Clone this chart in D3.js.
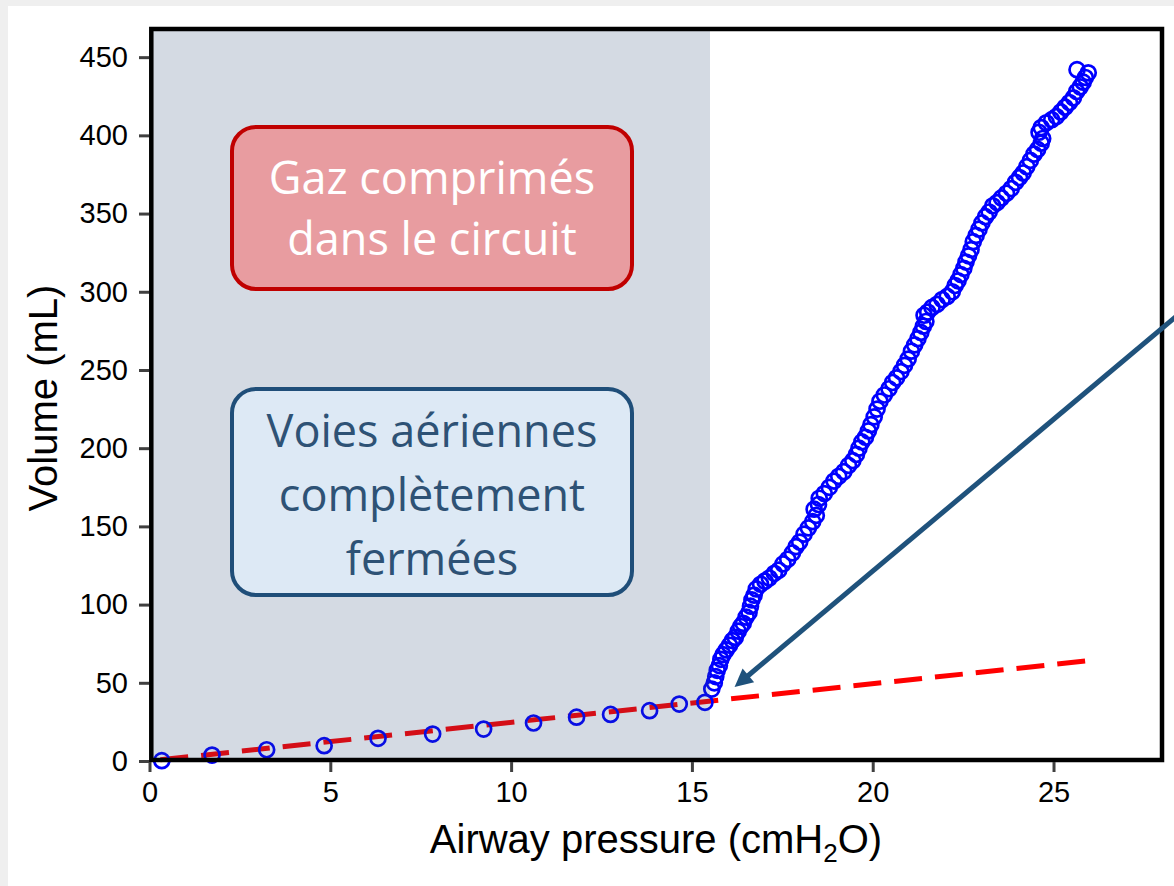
<!DOCTYPE html>
<html>
<head>
<meta charset="utf-8">
<script src="https://cdn.jsdelivr.net/npm/d3@7"></script>
<style>
  html, body { margin: 0; padding: 0; background: #efefef; }
  svg { display: block; }
</style>
</head>
<body>
<svg id="chart" width="1174" height="886"></svg>
<script>
// Pressure–volume points before the opening pressure (airways closed)
const lowPressure = [0.34, 1.73, 3.24, 4.83, 6.32, 7.83, 9.24, 10.62, 11.81, 12.75, 13.83, 14.65, 15.36];
const lowVolume   = [0.2, 3.8, 7.2, 9.8, 14.5, 17.2, 20.4, 24.3, 28.0, 29.8, 32.2, 36.4, 37.5];

// Points after airway opening
const highPressure = [
  15.55, 15.62, 15.66, 15.70, 15.76, 15.80, 15.86, 15.95, 16.04, 16.12,
  16.20, 16.28, 16.35, 16.42, 16.50, 16.58, 16.62, 16.66, 16.72, 16.78,
  16.90, 17.02, 17.14, 17.28, 17.40, 17.52, 17.65, 17.78, 17.88, 17.98,
  18.10, 18.22, 18.34, 18.44, 18.38, 18.50, 18.52, 18.66, 18.80, 18.93,
  19.06, 19.20, 19.33, 19.45, 19.55, 19.62, 19.70, 19.80, 19.88, 19.95,
  20.04, 20.12, 20.20, 20.32, 20.45, 20.55, 20.66, 20.78, 20.88, 20.98,
  21.07, 21.16, 21.25, 21.33, 21.40, 21.47, 21.42, 21.52, 21.64, 21.78,
  21.92, 22.06, 22.20, 22.28, 22.36, 22.44, 22.52, 22.58, 22.65, 22.72,
  22.78, 22.86, 22.94, 23.02, 23.12, 23.22, 23.32, 23.44, 23.56, 23.70,
  23.83, 23.95, 24.06, 24.16, 24.26, 24.36, 24.46, 24.56, 24.66, 24.70,
  24.60, 24.66, 24.80, 24.95, 25.08, 25.20, 25.32, 25.44, 25.55, 25.64,
  25.74, 25.82, 25.88, 25.96, 25.65
];
const highVolume = [
  46, 50, 54, 58, 61, 65, 68, 71, 74, 77,
  79, 83, 86, 88, 92, 95, 99, 103, 106, 110,
  113, 115, 117, 120, 122, 126, 129, 133, 137, 140,
  145, 149, 153, 157, 161, 164, 168, 171, 175, 179,
  182, 185, 189, 192, 196, 200, 204, 207, 211, 215,
  220, 225, 230, 234, 238, 242, 245, 249, 253, 257,
  262, 266, 270, 274, 278, 281, 285, 287, 290, 292,
  295, 297, 300, 304, 307, 311, 315, 319, 323, 327,
  332, 336, 340, 344, 348, 351, 355, 357, 360, 363,
  366, 370, 373, 376, 380, 384, 388, 391, 395, 398,
  402, 405, 408, 410, 412, 415, 418, 421, 424, 428,
  431, 434, 437, 440, 442
];

// Linear fit of the closed-airway segment, extended to the end of the loop
const fitPressure = [0.3, 26.0];
const fitVolume   = [0.8, 64.2];

// Pressure range where the airways stay completely closed
const closedRange = [0, 15.5];

// Arrow pointing at the airway opening pressure
const arrowFrom = [29.0, 296];
const arrowTo   = [16.18, 47.3];

const xTicks = [0, 5, 10, 15, 20, 25];
const yTicks = [0, 50, 100, 150, 200, 250, 300, 350, 400, 450];

const redBoxLines  = ["Gaz comprimés", "dans le circuit"];
const blueBoxLines = ["Voies aériennes", "complètement", "fermées"];

const svg = d3.select("#chart");

// page background
svg.append("rect")
  .attr("x", 8).attr("y", 6).attr("width", 1166).attr("height", 880)
  .attr("fill", "#ffffff");

const x = d3.scaleLinear().domain([0, 28]).range([149.5, 1162]);
const y = d3.scaleLinear().domain([0, 468]).range([761, 29]);

const plot = svg.append("g");

// dashed regression line
plot.append("path")
  .datum(fitPressure.map((p, i) => [p, fitVolume[i]]))
  .attr("d", d3.line().x(d => x(d[0])).y(d => y(d[1])))
  .attr("fill", "none")
  .attr("stroke", "#ff0000")
  .attr("stroke-width", 5)
  .attr("stroke-dasharray", "28,13");

// measured points
const points = lowPressure.map((p, i) => [p, lowVolume[i]])
  .concat(highPressure.map((p, i) => [p, highVolume[i]]));

plot.selectAll("circle.pt")
  .data(points)
  .join("circle")
  .attr("class", "pt")
  .attr("cx", d => x(d[0]))
  .attr("cy", d => y(d[1]))
  .attr("r", 7.5)
  .attr("fill", "none")
  .attr("stroke", "#0000ff")
  .attr("stroke-width", 2.7);

// shaded closed-airway zone
plot.append("rect")
  .attr("x", x(closedRange[0]))
  .attr("y", y(468))
  .attr("width", x(closedRange[1]) - x(closedRange[0]))
  .attr("height", y(0) - y(468))
  .attr("fill", "rgb(40,70,115)")
  .attr("fill-opacity", 0.2);

// annotation boxes
function box(x0, y0, w, h, fill, stroke, lines, color, lineGap, firstBaseline) {
  const g = svg.append("g");
  g.append("rect")
    .attr("x", x0).attr("y", y0).attr("width", w).attr("height", h)
    .attr("rx", 24).attr("ry", 24)
    .attr("fill", fill).attr("stroke", stroke).attr("stroke-width", 4);
  g.selectAll("text")
    .data(lines)
    .join("text")
    .attr("x", x0 + w / 2)
    .attr("y", (d, i) => firstBaseline + i * lineGap)
    .attr("text-anchor", "middle")
    .attr("font-family", "'Open Sans', sans-serif")
    .attr("font-weight", 400)
    .attr("font-size", 45)
    .attr("fill", color)
    .text(d => d);
}
box(232, 127, 400, 162, "#e89ca0", "#c00000", redBoxLines, "#ffffff", 61, 194);
box(232, 389, 400, 206, "#dde9f5", "#1f4e79", blueBoxLines, "#2e5275", 64, 447);

// frame
svg.append("rect")
  .attr("x", x(0) + 1.8)
  .attr("y", y(468))
  .attr("width", x(28) - x(0) - 1.8)
  .attr("height", y(0) - 1 - y(468))
  .attr("fill", "none")
  .attr("stroke", "#000")
  .attr("stroke-width", 4.5);

// axes
const yAxis = svg.append("g")
  .attr("transform", `translate(${x(0) - 0.5},0)`)
  .call(d3.axisLeft(y).tickValues(yTicks).tickSize(10).tickPadding(11));
const xAxis = svg.append("g")
  .attr("transform", `translate(0,${y(0) + 1})`)
  .call(d3.axisBottom(x).tickValues(xTicks).tickSize(10).tickPadding(9));

[xAxis, yAxis].forEach(a => {
  a.select(".domain").remove();
  a.selectAll(".tick line").attr("stroke", "#404040").attr("stroke-width", 3);
  a.selectAll(".tick text")
    .attr("fill", "#000")
    .attr("font-family", "'Liberation Sans', Arial, sans-serif")
    .attr("font-size", 29);
});

// axis titles
const xTitle = svg.append("text")
  .attr("x", 656).attr("y", 853)
  .attr("text-anchor", "middle")
  .attr("font-family", "'Liberation Sans', Arial, sans-serif")
  .attr("font-size", 40)
  .attr("fill", "#000");
xTitle.append("tspan").text("Airway pressure (cmH");
xTitle.append("tspan").attr("dy", 9).attr("font-size", 26).text("2");
xTitle.append("tspan").attr("dy", -9).text("O)");

svg.append("text")
  .attr("transform", "translate(57,398) rotate(-90)")
  .attr("text-anchor", "middle")
  .attr("font-family", "'Liberation Sans', Arial, sans-serif")
  .attr("font-size", 40)
  .attr("fill", "#000")
  .text("Volume (mL)");

// arrow
const p0 = [x(arrowFrom[0]), y(arrowFrom[1])];
const p1 = [x(arrowTo[0]), y(arrowTo[1])];
const len = Math.hypot(p1[0] - p0[0], p1[1] - p0[1]);
const u = [(p1[0] - p0[0]) / len, (p1[1] - p0[1]) / len];
const n = [-u[1], u[0]];
const headLen = 18, headHalf = 9;
svg.append("line")
  .attr("x1", p0[0]).attr("y1", p0[1])
  .attr("x2", p1[0] - u[0] * (headLen - 2)).attr("y2", p1[1] - u[1] * (headLen - 2))
  .attr("stroke", "#1f527c").attr("stroke-width", 5);
const base = [p1[0] - u[0] * headLen, p1[1] - u[1] * headLen];
svg.append("path")
  .attr("d", `M${p1[0]},${p1[1]}L${base[0] + n[0] * headHalf},${base[1] + n[1] * headHalf}L${base[0] - n[0] * headHalf},${base[1] - n[1] * headHalf}Z`)
  .attr("fill", "#1f527c");
</script>
</body>
</html>
